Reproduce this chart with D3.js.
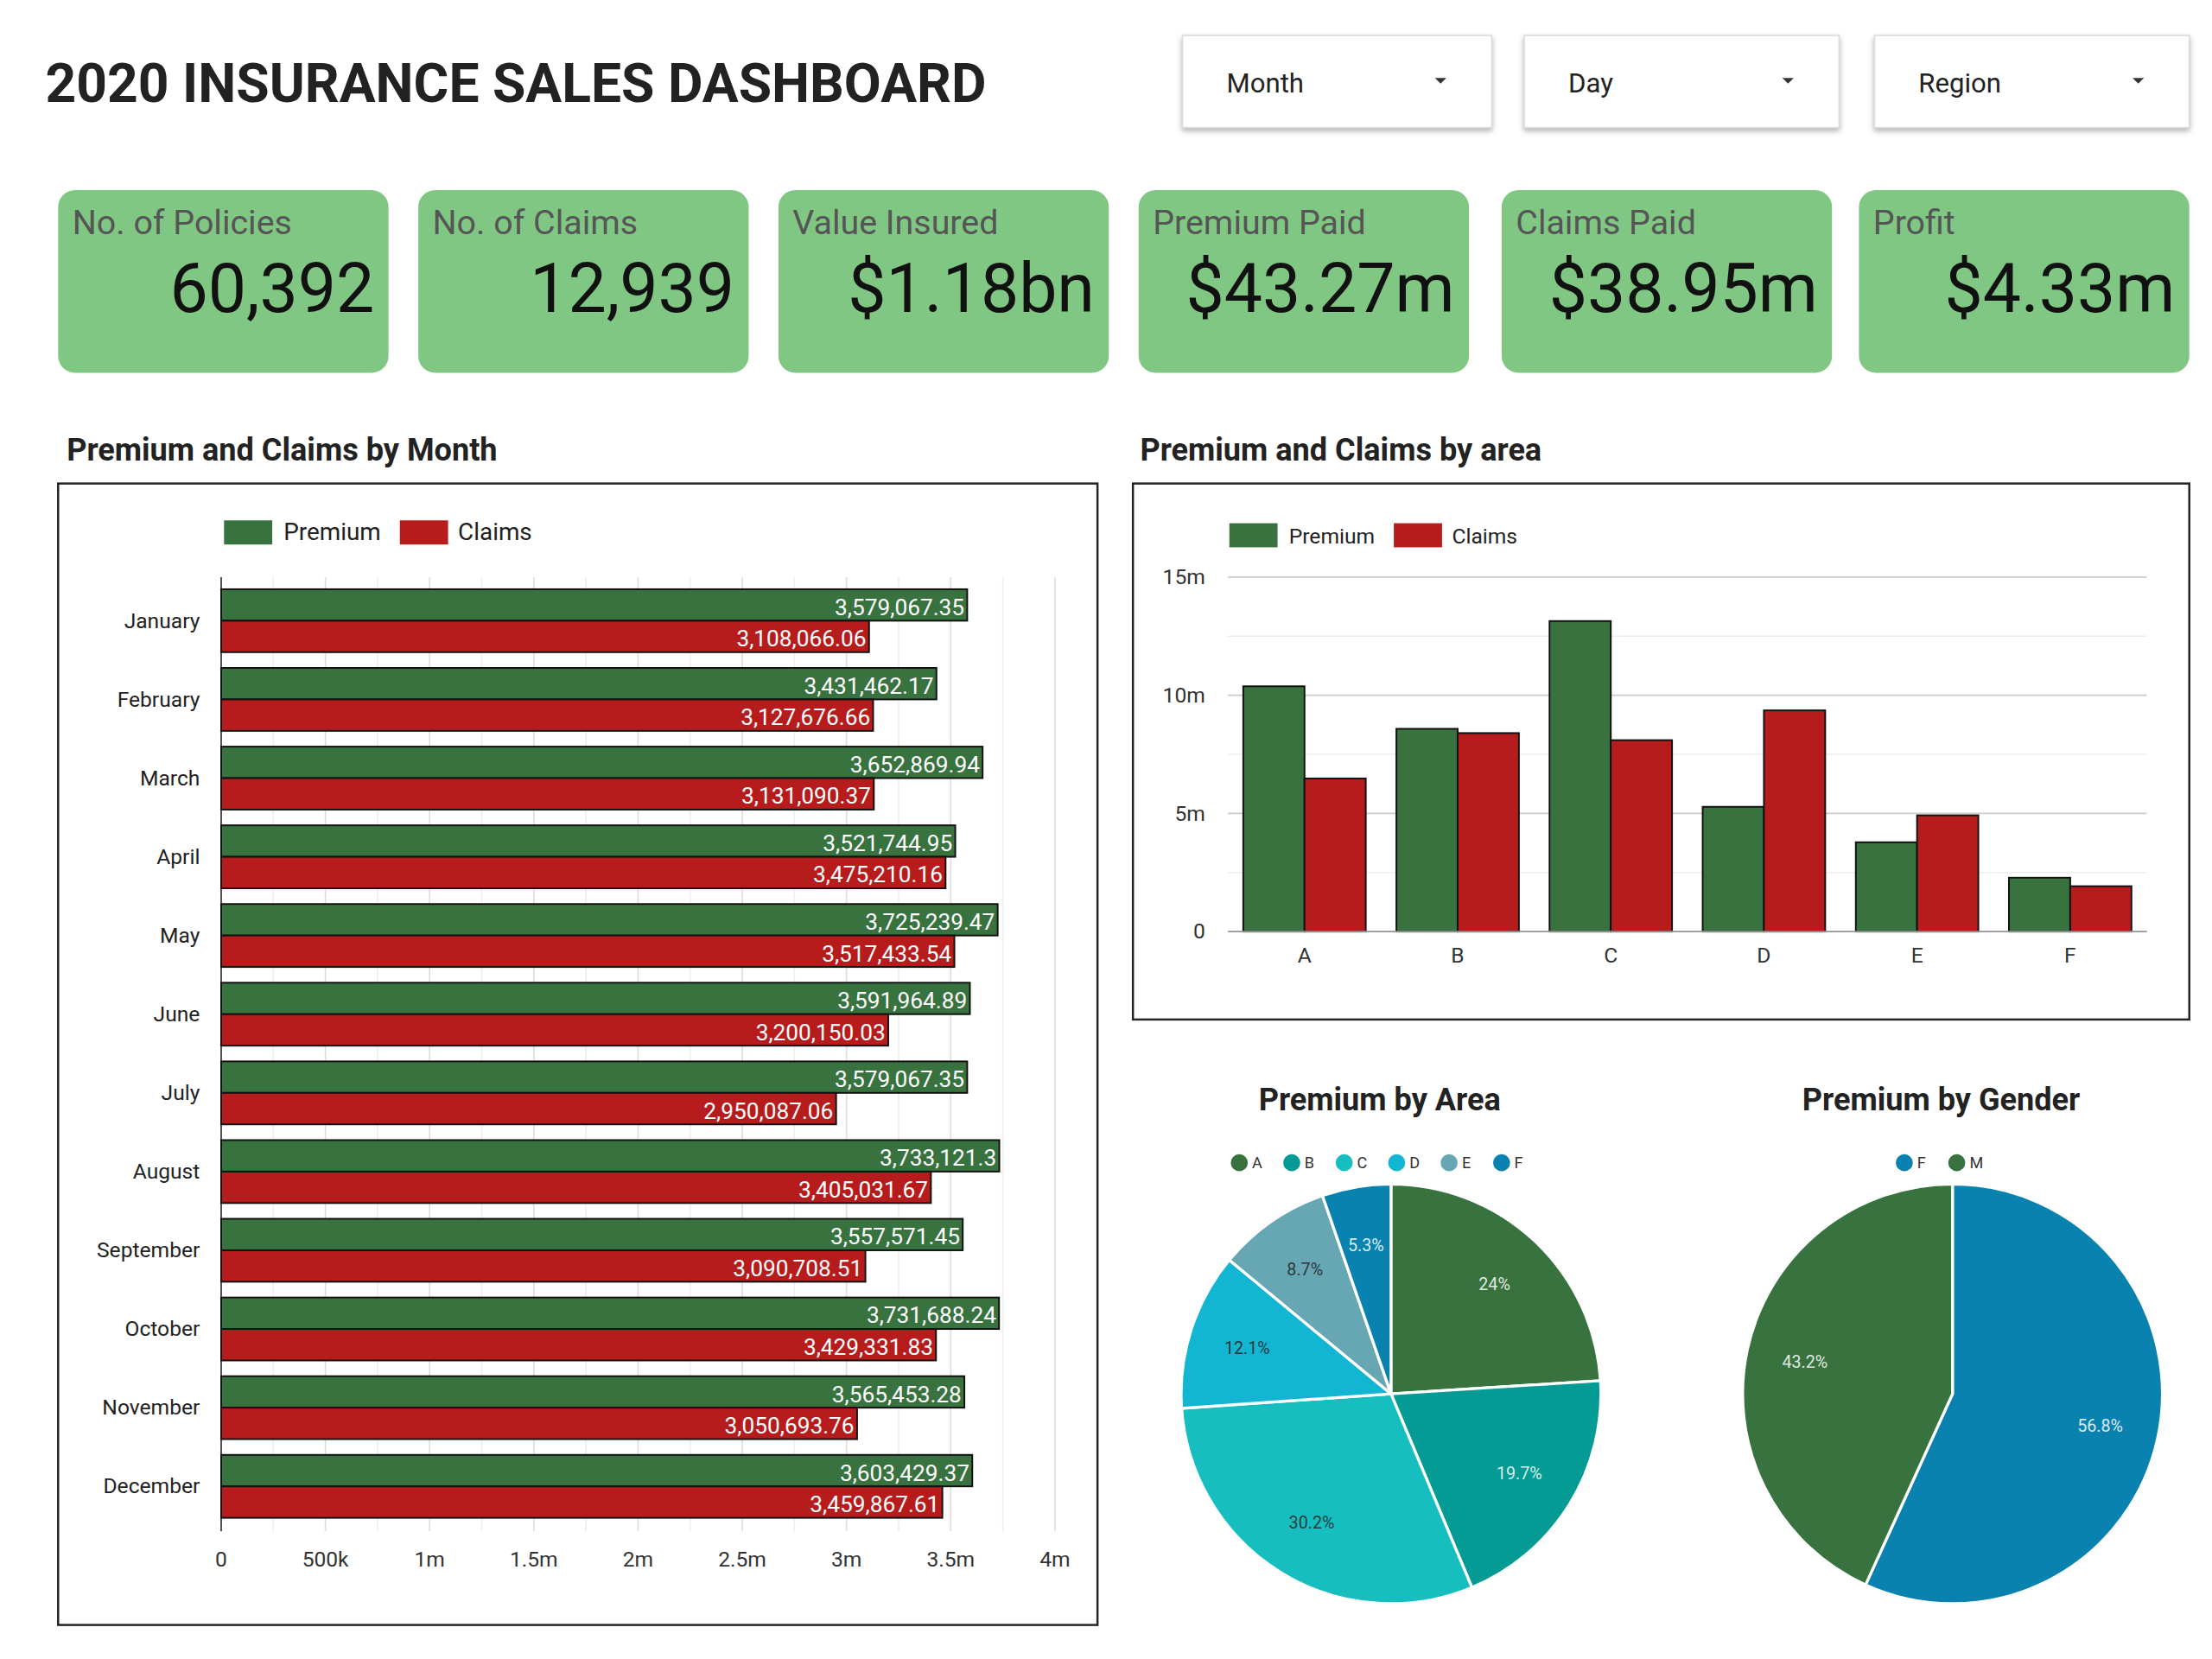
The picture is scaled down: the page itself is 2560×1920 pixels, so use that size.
<!DOCTYPE html>
<html lang="en">
<head>
<meta charset="UTF-8">
<title>2020 Insurance Sales Dashboard</title>
<script src="https://d3js.org/d3.v7.min.js"></script>
<style>
  body {margin:0; background:#fff;}
  svg {display:block; font-family:Roboto, "Liberation Sans", sans-serif;}
</style>
</head>
<body>
<svg id="dash" width="2560" height="1920" viewBox="0 0 1560 1170"></svg>
<script>
// ---- data ----
var filters = ["Month", "Day", "Region"];
var kpiLabels = ["No. of Policies", "No. of Claims", "Value Insured", "Premium Paid", "Claims Paid", "Profit"];
var kpiValues = ["60,392", "12,939", "$1.18bn", "$43.27m", "$38.95m", "$4.33m"];

var months = ["January","February","March","April","May","June","July","August","September","October","November","December"];
var monthPremium = [3579067.35,3431462.17,3652869.94,3521744.95,3725239.47,3591964.89,3579067.35,3733121.3,3557571.45,3731688.24,3565453.28,3603429.37];
var monthClaims = [3108066.06,3127676.66,3131090.37,3475210.16,3517433.54,3200150.03,2950087.06,3405031.67,3090708.51,3429331.83,3050693.76,3459867.61];
var monthTicks = [0,500000,1000000,1500000,2000000,2500000,3000000,3500000,4000000];
var monthTickLabels = ["0","500k","1m","1.5m","2m","2.5m","3m","3.5m","4m"];

var areas = ["A","B","C","D","E","F"];
var areaPremium = [10.38,8.58,13.14,5.28,3.78,2.28];
var areaClaims = [6.48,8.4,8.1,9.36,4.92,1.92];
var areaTicks = [0,5,10,15];
var areaTickLabels = ["0","5m","10m","15m"];

var areaShare = [24,19.7,30.2,12.1,8.7,5.3];
var areaColors = ["#38733f","#039b94","#17bec0","#12b5d2","#66a7b3","#0a82b0"];
var genders = ["F","M"];
var genderShare = [56.8,43.2];
var genderColors = ["#0a82b0","#38733f"];

var GREEN = "#38733f", RED = "#b71c1c";
var svg = d3.select("#dash");

// title
svg.append("text").attr("x",32).attr("y",72).attr("font-size",38).attr("font-weight","bold")
  .attr("fill","#222").text("2020 INSURANCE SALES DASHBOARD");

// dropdown filters
var fx = [834, 1075, 1322], fw = [218, 222, 222];
filters.forEach(function(f, i){
  var g = svg.append("g").attr("transform","translate("+fx[i]+",25)");
  g.append("rect").attr("width",fw[i]).attr("height",65).attr("fill","#fff")
    .attr("stroke","#ddd").style("filter","drop-shadow(0 2px 2px rgba(0,0,0,0.3))");
  g.append("text").attr("x",31).attr("y",40).attr("font-size",19).attr("fill","#222").text(f);
  g.append("path").attr("d","M"+(fw[i]-40)+",30 l8,0 l-4,4 z").attr("fill","#333");
});

// KPI cards
var kx = [41, 295, 549, 803, 1059, 1311];
kpiLabels.forEach(function(l, i){
  var g = svg.append("g").attr("transform","translate("+kx[i]+",134)");
  g.append("rect").attr("width",233).attr("height",129).attr("rx",12).attr("fill","#81c784");
  g.append("text").attr("x",10).attr("y",31).attr("font-size",24).attr("fill","#555").text(l);
  g.append("text").attr("x",223).attr("y",86).attr("text-anchor","end").attr("font-size",48)
    .attr("fill","#111").text(kpiValues[i]);
});

// section titles
function sectionTitle(x, y, t, anchor){
  svg.append("text").attr("x",x).attr("y",y).attr("font-size",22).attr("font-weight","bold")
    .attr("fill","#222").attr("text-anchor",anchor || "start").text(t);
}
sectionTitle(47, 325, "Premium and Claims by Month");
sectionTitle(804, 325, "Premium and Claims by area");

function legend(x, y, size){
  var g = svg.append("g").attr("transform","translate("+x+","+y+")");
  g.append("rect").attr("width",34).attr("height",17).attr("fill",GREEN);
  g.append("text").attr("x",42).attr("y",14).attr("font-size",size).attr("fill","#222").text("Premium");
  var off = size > 16 ? 124 : 116;
  g.append("rect").attr("x",off).attr("width",34).attr("height",17).attr("fill",RED);
  g.append("text").attr("x",off+41).attr("y",14).attr("font-size",size).attr("fill","#222").text("Claims");
}

// ---- horizontal bar chart by month ----
svg.append("rect").attr("x",41).attr("y",341).attr("width",733).attr("height",805)
  .attr("fill","none").attr("stroke","#222").attr("stroke-width",1.5);
legend(158, 367, 17);

var x = d3.scaleLinear().domain([0,4000000]).range([156,744]);
var y = d3.scaleBand().domain(months).range([410, 1076]).paddingInner(0.2).paddingOuter(0.1);
var minor = d3.range(0, 4000001, 250000);
svg.append("g").selectAll("line").data(minor).join("line")
  .attr("x1",d=>x(d)).attr("x2",d=>x(d)).attr("y1",407).attr("y2",1080)
  .attr("stroke",(d,i)=> i%2 ? "#eee" : "#ddd");
svg.append("line").attr("x1",x(0)).attr("x2",x(0)).attr("y1",407).attr("y2",1080).attr("stroke","#333");
svg.append("g").selectAll("text").data(monthTicks).join("text")
  .attr("x",d=>x(d)).attr("y",1105).attr("text-anchor","middle").attr("font-size",15).attr("fill","#333")
  .text((d,i)=>monthTickLabels[i]);
svg.append("g").selectAll("text").data(months).join("text")
  .attr("x",141).attr("y",d=>y(d)+y.bandwidth()/2+5).attr("text-anchor","end")
  .attr("font-size",15).attr("fill","#222").text(d=>d);

var bh = y.bandwidth()/2;
[[monthPremium, GREEN, 0], [monthClaims, RED, 1]].forEach(function(s){
  var g = svg.append("g");
  g.selectAll("rect").data(s[0]).join("rect")
    .attr("x",x(0)).attr("y",(d,i)=>y(months[i])+s[2]*bh).attr("width",d=>x(d)-x(0)).attr("height",bh)
    .attr("fill",s[1]).attr("stroke","#111").attr("stroke-width",1.2);
  g.selectAll("text").data(s[0]).join("text")
    .attr("x",d=>x(d)-2).attr("y",(d,i)=>y(months[i])+s[2]*bh+bh-4).attr("text-anchor","end")
    .attr("font-size",16).attr("fill","#fff").text(d=>d3.format(",")(d));
});

// ---- column chart by area ----
svg.append("rect").attr("x",799).attr("y",341).attr("width",745).attr("height",378)
  .attr("fill","none").attr("stroke","#222").attr("stroke-width",1.5);
legend(867, 369, 15);

var ya = d3.scaleLinear().domain([0,15]).range([657,407]);
var xa = d3.scaleBand().domain(areas).range([866,1514]).paddingInner(0.2).paddingOuter(0.1);
svg.append("g").selectAll("line").data(d3.range(0,15.1,2.5)).join("line")
  .attr("x1",866).attr("x2",1514).attr("y1",d=>ya(d)).attr("y2",d=>ya(d))
  .attr("stroke",d=> d%5 ? "#eee" : "#ccc");
svg.append("g").selectAll("text").data(areaTicks).join("text")
  .attr("x",850).attr("y",d=>ya(d)+5).attr("text-anchor","end").attr("font-size",15).attr("fill","#333")
  .text((d,i)=>areaTickLabels[i]);
svg.append("g").selectAll("text").data(areas).join("text")
  .attr("x",d=>xa(d)+xa.bandwidth()/2).attr("y",679).attr("text-anchor","middle")
  .attr("font-size",15).attr("fill","#333").text(d=>d);
var bw = xa.bandwidth()/2;
[[areaPremium, GREEN, 0], [areaClaims, RED, 1]].forEach(function(s){
  svg.append("g").selectAll("rect").data(s[0]).join("rect")
    .attr("x",(d,i)=>xa(areas[i])+s[2]*bw).attr("y",d=>ya(d)).attr("width",bw).attr("height",d=>ya(0)-ya(d))
    .attr("fill",s[1]).attr("stroke","#111").attr("stroke-width",1.2);
});
svg.append("line").attr("x1",866).attr("x2",1514).attr("y1",ya(0)).attr("y2",ya(0)).attr("stroke","#999");

// ---- pies ----
function pie(cx, cy, r, names, vals, colors, title, legX){
  sectionTitle(cx - 8, 783, title, "middle");
  var lg = svg.append("g").attr("transform","translate("+legX+",820)");
  names.forEach(function(n, i){
    lg.append("circle").attr("cx",i*37+6).attr("cy",0).attr("r",6).attr("fill",colors[i]);
    lg.append("text").attr("x",i*37+15).attr("y",4).attr("font-size",11).attr("fill","#333").text(n);
  });
  var arcs = d3.pie().sort(null).value(d=>d)(vals);
  var arc = d3.arc().innerRadius(0).outerRadius(r);
  var lab = d3.arc().innerRadius(r*0.72).outerRadius(r*0.72);
  var g = svg.append("g").attr("transform","translate("+cx+","+cy+")");
  g.selectAll("path").data(arcs).join("path").attr("d",arc)
    .attr("fill",(d,i)=>colors[i]).attr("stroke","#fff").attr("stroke-width",2);
  g.selectAll("text").data(arcs).join("text")
    .attr("transform",d=>"translate("+lab.centroid(d)+")").attr("text-anchor","middle").attr("dy","0.35em")
    .attr("font-size",12).attr("fill",(d,i)=> i===2||i===3||i===4 ? "#222" : "#fff")
    .attr("fill-opacity",0.85)
    .text((d,i)=>vals[i]+"%");
}
pie(981, 983, 148, areas, areaShare, areaColors, "Premium by Area", 868);
pie(1377, 983, 148, genders, genderShare, genderColors, "Premium by Gender", 1337);
</script>
</body>
</html>
